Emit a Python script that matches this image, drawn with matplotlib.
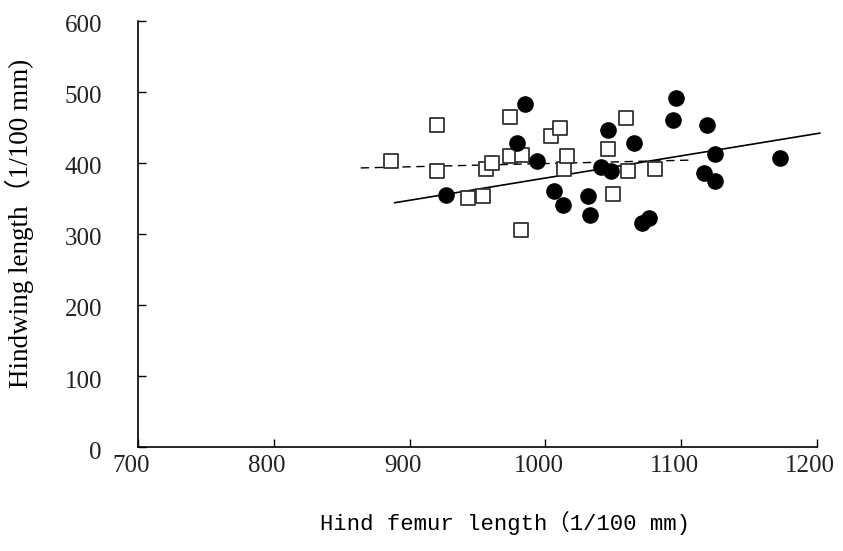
import matplotlib
matplotlib.use("Agg")
import matplotlib.pyplot as plt
import matplotlib.transforms as mtransforms

# group 1: filled circles
circle_x = [927, 979, 985, 994, 1006, 1013, 1031, 1033, 1041, 1048, 1046, 1065,
            1071, 1076, 1094, 1096, 1117, 1119, 1125, 1125, 1173]
circle_y = [355, 428, 483, 403, 360, 341, 353, 327, 395, 389, 446, 428,
            316, 323, 461, 492, 386, 453, 413, 374, 407]

# group 2: open squares
square_x = [886, 920, 920, 943, 954, 956, 961, 974, 974, 983, 982, 1004,
            1011, 1014, 1016, 1046, 1050, 1059, 1061, 1081]
square_y = [403, 453, 389, 350, 353, 391, 400, 465, 410, 411, 306, 438,
            449, 391, 410, 420, 357, 463, 389, 391]

# fitted lines (end points)
solid_x = [889, 1202]
solid_y = [344, 442]
dashed_x = [864, 1106]
dashed_y = [393, 404]

fig = plt.figure(figsize=(8.43, 5.51), dpi=100)
ax = fig.add_axes([0.1637, 0.1887, 0.8055, 0.7733])

ax.plot(solid_x, solid_y, color="black", lw=1.2, clip_on=False)
ax.plot(dashed_x, dashed_y, color="black", lw=1.0, dashes=(6, 4))
ax.scatter(square_x, square_y, marker="s", s=105, facecolor="white",
           edgecolor="#333333", linewidth=1.3, zorder=3)
ax.scatter(circle_x, circle_y, marker="o", s=120, color="black", zorder=4)

ax.set_xlim(700, 1200)
ax.set_ylim(0, 600)
ax.set_xticks([700, 800, 900, 1000, 1100, 1200])
ax.set_yticks([0, 100, 200, 300, 400, 500, 600])
ax.spines["top"].set_visible(False)
ax.spines["right"].set_visible(False)
ax.spines["left"].set_linewidth(1.2)
ax.spines["bottom"].set_linewidth(1.2)
ax.tick_params(direction="in", length=6, width=1.0, labelsize=18)
ax.tick_params(axis="x", pad=6)
ax.tick_params(axis="y", pad=26)

xshift = mtransforms.ScaledTranslation(-0.07, 0, fig.dpi_scale_trans)
yshift = mtransforms.ScaledTranslation(0, -0.03, fig.dpi_scale_trans)
for lab in ax.get_xticklabels():
    lab.set_family("Liberation Serif")
    lab.set_color("#222222")
    lab.set_transform(lab.get_transform() + xshift)
for lab in ax.get_yticklabels():
    lab.set_family("Liberation Serif")
    lab.set_color("#222222")
    lab.set_transform(lab.get_transform() + yshift)

ax.set_xlabel("Hind femur length\uff081/100 mm)", fontsize=16,
              family=["Liberation Mono", "Noto Sans CJK SC"])
ax.set_ylabel("Hindwing length\uff081/100 mm)", fontsize=19.5,
              family=["Liberation Serif", "Noto Sans CJK SC"])
ax.xaxis.set_label_coords(0.54, -0.178)
ax.xaxis.label.set_va("center")
ax.yaxis.set_label_coords(-0.174, 0.524)
ax.yaxis.label.set_va("center")

fig.savefig("out.png", dpi=100)
